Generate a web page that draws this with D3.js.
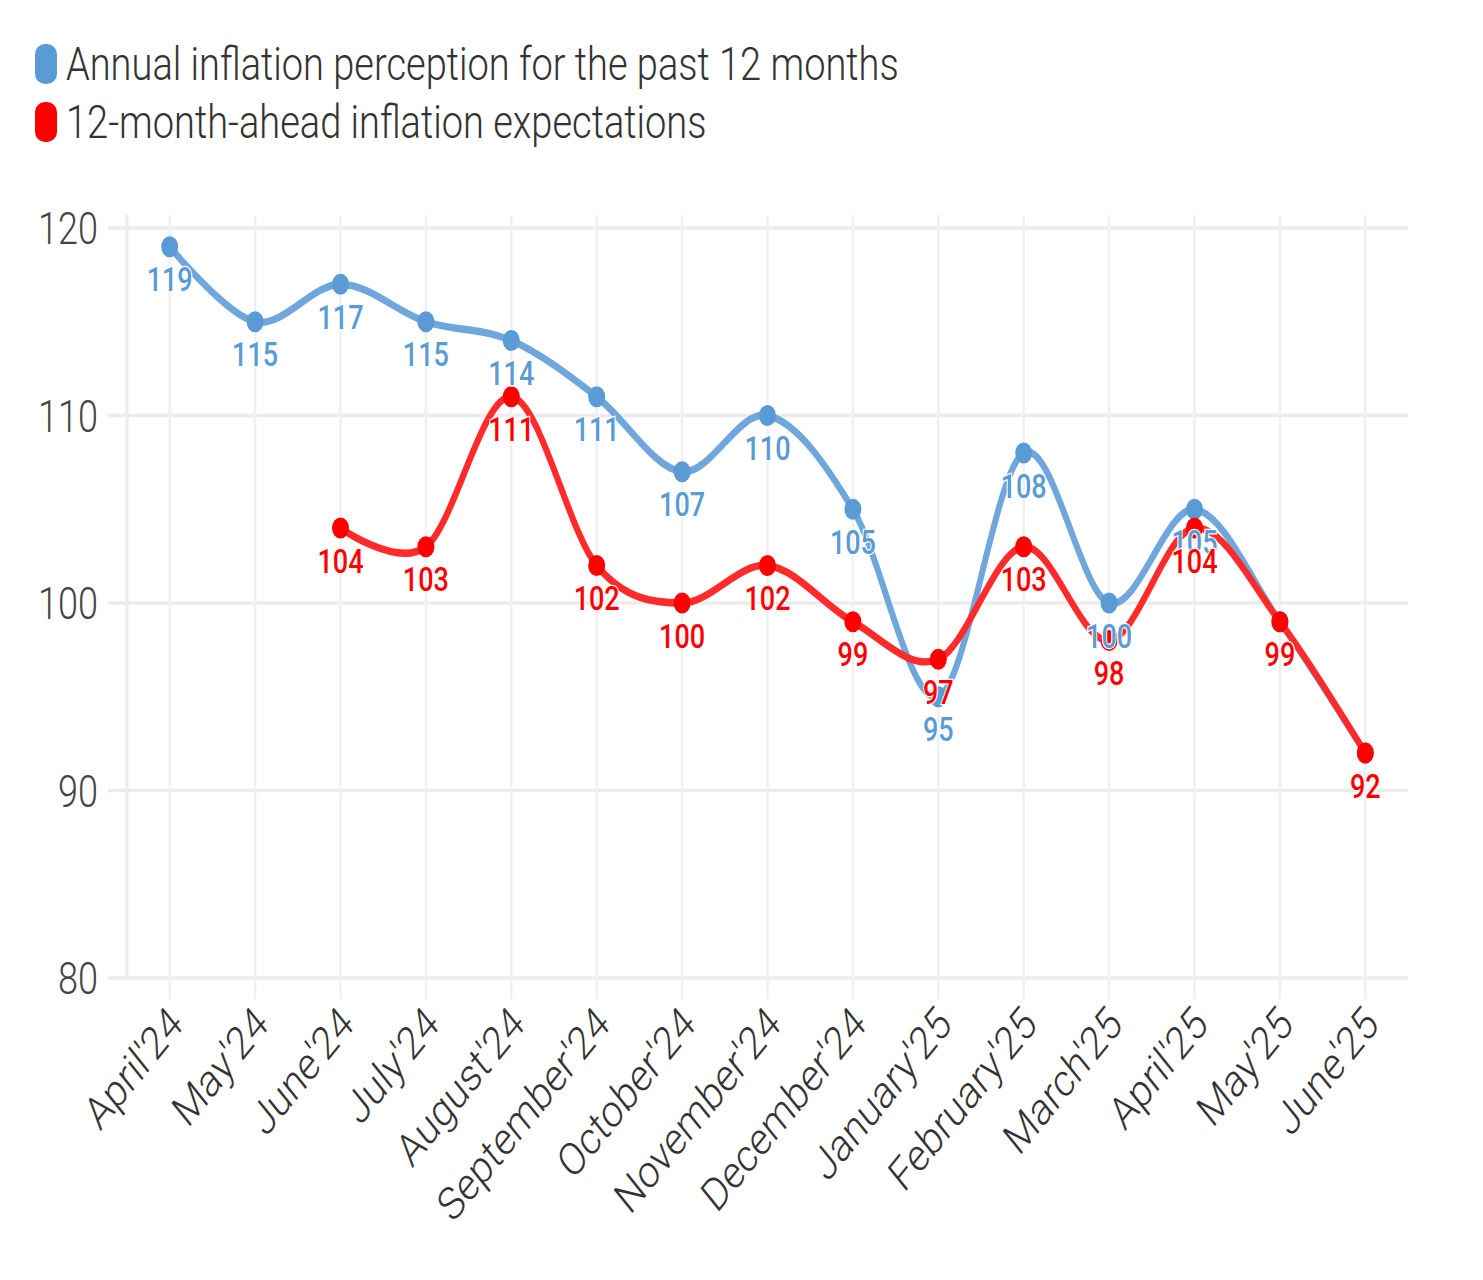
<!DOCTYPE html>
<html>
<head>
<meta charset="utf-8">
<script src="https://cdn.jsdelivr.net/npm/d3@7"></script>
<style>
  html, body { margin: 0; padding: 0; background: #fff; }
  svg { display: block; }
</style>
</head>
<body>
<div id="chart"></div>
<script>
// data
const months = ["April'24", "May'24", "June'24", "July'24", "August'24", "September'24",
    "October'24", "November'24", "December'24", "January'25", "February'25", "March'25",
    "April'25", "May'25", "June'25"];
const perception = [119, 115, 117, 115, 114, 111, 107, 110, 105, 95, 108, 100, 105, 99, 92];
const expectations = [null, null, 104, 103, 111, 102, 100, 102, 99, 97, 103, 98, 104, 99, 92];
const yTicks = [80, 90, 100, 110, 120];

const seriesNames = ["Annual inflation perception for the past 12 months",
    "12-month-ahead inflation expectations"];
const seriesColors = ["#5b9bd5", "#ff0000"];
const lineColors = ["#6fa7dc", "#ff2a2a"];

// the picture is stretched vertically, so draw in a shorter box and stretch it
var width = 1483,
    height = 1280,
    stretch = 1.24,
    vh = height / stretch;

var svg = d3.select("#chart")
    .append("svg")
    .attr("width", width)
    .attr("height", height)
    .attr("viewBox", "0 0 " + width + " " + vh)
    .attr("preserveAspectRatio", "none");

var font = "Roboto, 'Noto Sans', sans-serif";

var x = d3.scalePoint()
    .domain(months)
    .range([127, 1408])
    .padding(0.5);

var y = d3.scaleLinear()
    .domain([80, 120])
    .range([978 / stretch, 228 / stretch]);

var plotTop = 215 / stretch;

// horizontal grid
svg.append("g")
    .selectAll("line")
    .data(yTicks)
    .join("line")
    .attr("x1", 108)
    .attr("x2", 1408)
    .attr("y1", d => y(d))
    .attr("y2", d => y(d))
    .attr("stroke", "#ececec")
    .attr("stroke-width", 3);

// vertical grid (one per month, with a little tick under the axis)
svg.append("g")
    .selectAll("line")
    .data(months)
    .join("line")
    .attr("x1", d => x(d))
    .attr("x2", d => x(d))
    .attr("y1", plotTop)
    .attr("y2", y(80) + 17)
    .attr("stroke", "#f0f0f0")
    .attr("stroke-width", 2.5);

// left axis line
svg.append("line")
    .attr("x1", 127)
    .attr("x2", 127)
    .attr("y1", plotTop)
    .attr("y2", y(80))
    .attr("stroke", "#ececec")
    .attr("stroke-width", 3);

// y tick labels
svg.append("g")
    .selectAll("text")
    .data(yTicks)
    .join("text")
    .attr("x", 98)
    .attr("y", d => y(d))
    .attr("dy", "0.36em")
    .attr("text-anchor", "end")
    .style("font", "300 36px " + font)
    .style("fill", "#444")
    .text(d => d);

// x tick labels, rotated
svg.append("g")
    .selectAll("text")
    .data(months)
    .join("text")
    .attr("transform", d => "translate(" + (x(d) + 6) + "," + (y(80) + 30) + ") rotate(-45)")
    .attr("text-anchor", "end")
    .attr("dy", "0.35em")
    .style("font", "300 37px " + font)
    .style("fill", "#333")
    .text(d => d);

var line = d3.line()
    .defined(d => d.v !== null)
    .x(d => x(d.m))
    .y(d => y(d.v))
    .curve(d3.curveCardinal.tension(0));

var series = [perception, expectations].map(function(vals) {
    return months.map((m, i) => ({ m: m, v: vals[i] }));
});

// lines and dots
series.forEach(function(s, k) {
    svg.append("path")
        .datum(s)
        .attr("d", line)
        .attr("fill", "none")
        .attr("stroke", lineColors[k])
        .attr("stroke-width", 6)
        .attr("stroke-linecap", "round");

    svg.append("g")
        .selectAll("circle")
        .data(s.filter(d => d.v !== null))
        .join("circle")
        .attr("cx", d => x(d.m))
        .attr("cy", d => y(d.v))
        .attr("r", 8.5)
        .attr("fill", seriesColors[k]);
});

// value labels, white outline, on top of all lines
series.forEach(function(s, k) {
    svg.append("g")
        .selectAll("text")
        .data(s.filter(d => d.v !== null))
        .join("text")
        .attr("x", d => x(d.m))
        .attr("y", d => y(d.v) + 36)
        .attr("text-anchor", "middle")
        .style("font", "500 27px " + font)
        .style("fill", seriesColors[k])
        .style("stroke", "#fff")
        .style("stroke-width", 2)
        .style("paint-order", "stroke")
        .text(d => d.v);
});

// legend
var legend = svg.append("g");
seriesNames.forEach(function(name, k) {
    var top = (44 + k * 58) / stretch;
    legend.append("rect")
        .attr("x", 35)
        .attr("y", top)
        .attr("width", 22)
        .attr("height", 40 / stretch)
        .attr("rx", 10)
        .attr("ry", 8)
        .attr("fill", seriesColors[k]);
    legend.append("text")
        .attr("x", 66)
        .attr("y", top + 29)
        .style("font", "300 38px " + font)
        .style("fill", "#333")
        .text(name);
});
</script>
</body>
</html>
